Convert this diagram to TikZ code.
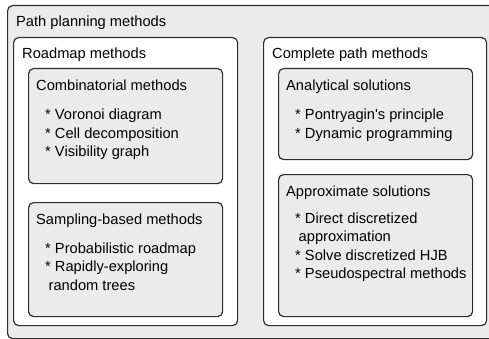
\documentclass[tikz,border=0pt]{standalone}
\usepackage{fontspec}
\setmainfont{Liberation Sans}
\usetikzlibrary{positioning}
\definecolor{boxgray}{HTML}{EBEBEB}
\definecolor{edgegray}{HTML}{2E2E2E}
\tikzstyle{frame} = [draw=edgegray, line width=1.2pt, rounded corners=5pt, anchor=north west, inner sep=0pt]

\begin{document}
\begin{tikzpicture}[x=1pt,y=-1pt,
            outer/.style = {frame, fill=boxgray},
            group/.style = {frame, fill=white},
            sub/.style = {frame, fill=boxgray},
            head/.style = {anchor=base west, inner sep=0pt, font=\fontsize{14.67}{18.5}\selectfont},
            items/.style = {anchor=base west, inner sep=0pt, align=left, font=\fontsize{14.67}{18.5}\selectfont}]
            \useasboundingbox (0,0) rectangle (489,339);
            \clip (0,0) rectangle (489,339);
            % boxes
            \node[outer, minimum width=500pt, minimum height=333pt] (planbox) at (7,5) {};
            \node[group, minimum width=224pt, minimum height=288pt] (roadbox) at (13,37) {};
            \node[group, minimum width=223pt, minimum height=288pt] (compbox) at (263,37) {};
            \node[sub, minimum width=194pt, minimum height=115pt] (combbox) at (28,68) {};
            \node[sub, minimum width=194pt, minimum height=114pt] (sampbox) at (28,202) {};
            \node[sub, minimum width=194pt, minimum height=91pt] (analbox) at (278,68) {};
            \node[sub, minimum width=194pt, minimum height=142pt] (apprbox) at (278,174) {};
            % titles
            \node[head] (plan) at (16,27) {Path planning methods};
            \node[head] (road) at (22,59) {Roadmap methods};
            \node[head] (comp) at (272,59) {Complete path methods};
            \node[head] (comb) at (36,91) {Combinatorial methods};
            \node[head] (samp) at (36,224) {Sampling-based methods};
            \node[head] (anal) at (286,91) {Analytical solutions};
            \node[head] (appr) at (286,196) {Approximate solutions};
            % lists (base = last line)
            \node[items] (comblist) at (45,157) {* Voronoi diagram\\* Cell decomposition\\* Visibility graph};
            \node[items] (samplist) at (45,290) {* Probabilistic roadmap\\* Rapidly-exploring\\\hspace{3.5pt}random trees};
            \node[items] (anallist) at (295,138.5) {* Pontryagin\textquotesingle s principle\\* Dynamic programming};
            \node[items] (apprlist) at (295,278.5) {* Direct discretized\\\hspace{3.5pt}approximation\\* Solve discretized HJB\\* Pseudospectral methods};
\end{tikzpicture}
\end{document}
